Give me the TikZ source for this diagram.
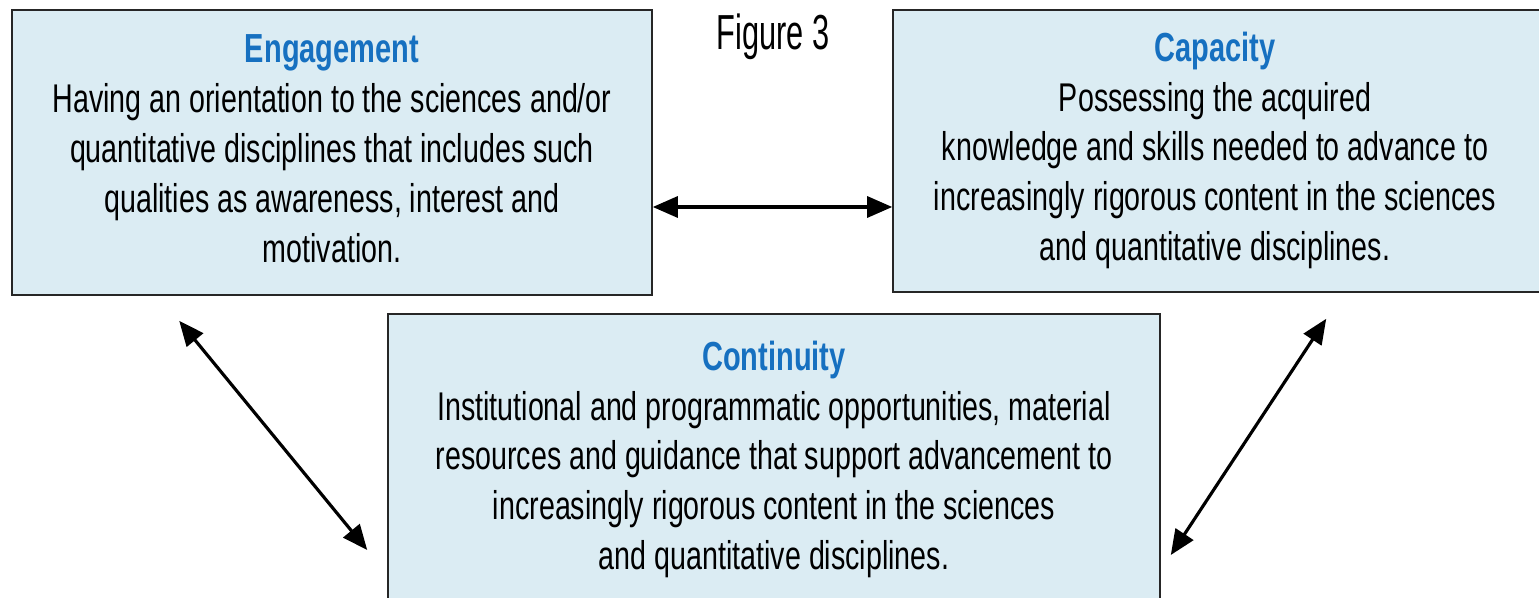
\documentclass[tikz,border=0pt]{standalone}
\usepackage{fontspec}
\setmainfont{Liberation Sans}
\usetikzlibrary{positioning,arrows.meta}

\definecolor{boxfill}{RGB}{219,236,243}
\definecolor{headblue}{RGB}{22,112,192}
% tall, narrow lettering as in the original scan
\newcommand{\tallbox}[2]{\scalebox{1}[1.4]{\begin{tabular}{@{}c@{}}{\fontsize{16.5}{20.3}\selectfont\bfseries\textcolor{headblue}{#1}}\\#2\end{tabular}}}

\begin{document}
\begin{tikzpicture}[
  infobox/.style={draw=black!85, fill=boxfill, line width=0.9pt, inner sep=0pt,
    font=\fontsize{16.3}{20.3}\selectfont, align=center},
  twoway/.style={{Triangle[length=0.5cm,width=0.42cm]}-{Triangle[length=0.5cm,width=0.42cm]}, line width=1.8pt}]

\useasboundingbox (0,0) rectangle (30.78,-11.96);

\node[infobox, minimum width=12.8cm, minimum height=5.7cm] (eng) at (6.64,-3.05)
  {\tallbox{Engagement}{Having an orientation to the sciences and/or\\
   quantitative disciplines that includes such\\
   qualities as awareness, interest and\\ motivation.}};

\node[infobox, minimum width=13.2cm, minimum height=5.64cm] (cap) at (24.46,-3.02)
  {\hspace*{-0.32cm}\tallbox{Capacity}{Possessing the acquired\\
   knowledge and skills needed to advance to\\
   increasingly rigorous content in the sciences\\
   and quantitative disciplines.}};

\node[infobox, minimum width=15.44cm, minimum height=5.84cm] (con) at (15.48,-9.2)
  {\tallbox{Continuity}{Institutional and programmatic opportunities, material\\
   resources and guidance that support advancement to\\
   increasingly rigorous content in the sciences\\
   and quantitative disciplines.}};

\node (fig) at (15.46,-0.74) {\scalebox{1}[1.6]{\fontsize{17.5}{20}\selectfont Figure 3}};

\coordinate (engA) at ([yshift=-1.09cm]eng.east);
\coordinate (capA) at ([yshift=-1.12cm]cap.west);
\coordinate (engB) at ([shift={(3.36,-0.5)}]eng.south west);
\coordinate (conB) at ([shift={(-0.4,-1.8)}]con.west);
\coordinate (capC) at ([shift={(8.68,-0.52)}]cap.south west);
\coordinate (conC) at ([shift={(0.2,-1.9)}]con.east);

\draw[twoway] (engA) -- (capA);
\draw[twoway] (engB) -- (conB);
\draw[twoway] (capC) -- (conC);
\end{tikzpicture}
\end{document}
